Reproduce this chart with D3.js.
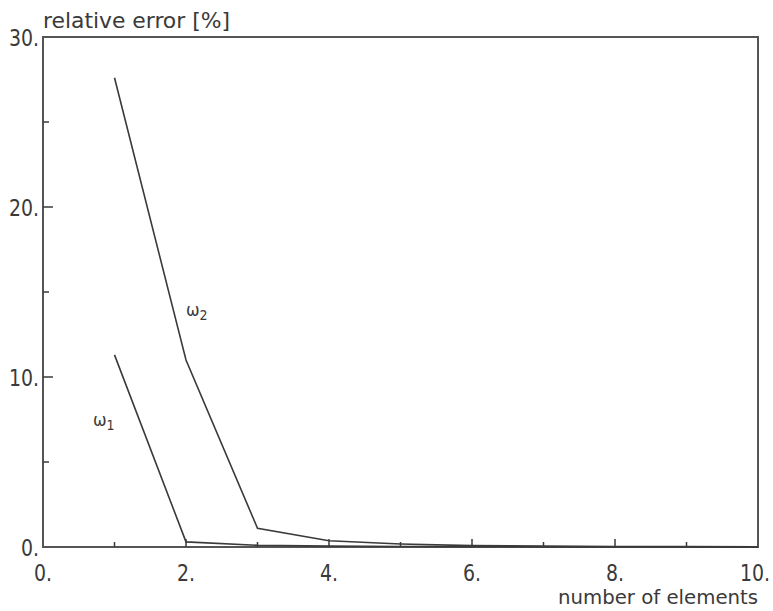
<!DOCTYPE html>
<html>
<head>
<meta charset="utf-8">
<script src="https://cdn.jsdelivr.net/npm/d3@7"></script>
<style>
  body { margin: 0; background: #fff; }
  text { font-family: "DejaVu Sans Condensed", "DejaVu Sans", sans-serif; fill: #3a3a3a; }
</style>
</head>
<body>
<div id="chart"></div>
<script>
// data
var elements = [1, 2, 3, 4, 5, 6, 7, 8, 9, 10];
var omega1 = [11.3, 0.3, 0.1, 0.05, 0.03, 0.02, 0.01, 0.01, 0.0, 0.0];
var omega2 = [27.6, 11.0, 1.1, 0.37, 0.18, 0.08, 0.05, 0.03, 0.02, 0.01];
var xTicks = [0, 2, 4, 6, 8, 10];
var xMinor = [1, 3, 5, 7, 9];
var yTicks = [0, 10, 20, 30];
var yMinor = [5, 15, 25];

var svgWidth = 773;
var svgHeight = 611;

var margin = { top: 37, right: 15, bottom: 64, left: 43 };
var width = svgWidth - margin.left - margin.right;
var height = svgHeight - margin.top - margin.bottom;

var svg = d3.select("#chart")
  .append("svg")
  .attr("width", svgWidth)
  .attr("height", svgHeight);

var chartGroup = svg.append("g")
  .attr("transform", `translate(${margin.left}, ${margin.top})`);

var xScale = d3.scaleLinear().domain([0, 10]).range([0, width]);
var yScale = d3.scaleLinear().domain([0, 30]).range([height, 0]);

var ink = "#3a3a3a";
// plotter font is narrow: squeeze the labels to its width
var labelWidth = d => String(d).length * 12 + 6;

// frame
chartGroup.append("rect")
  .attr("width", width)
  .attr("height", height)
  .attr("fill", "none")
  .attr("stroke", "#555")
  .attr("stroke-width", 2);

// x ticks (inside, pointing up)
chartGroup.selectAll(".xmaj")
  .data(xTicks.slice(1, -1))
  .enter().append("line")
  .attr("x1", d => xScale(d)).attr("x2", d => xScale(d))
  .attr("y1", height).attr("y2", height - 8)
  .attr("stroke", ink).attr("stroke-width", 1.5);

chartGroup.selectAll(".xmin")
  .data(xMinor)
  .enter().append("line")
  .attr("x1", d => xScale(d)).attr("x2", d => xScale(d))
  .attr("y1", height).attr("y2", height - 5)
  .attr("stroke", ink).attr("stroke-width", 1.5);

// y ticks (inside, pointing right)
chartGroup.selectAll(".ymaj")
  .data(yTicks.slice(1, -1))
  .enter().append("line")
  .attr("x1", 0).attr("x2", 10)
  .attr("y1", d => yScale(d)).attr("y2", d => yScale(d))
  .attr("stroke", ink).attr("stroke-width", 1.5);

chartGroup.selectAll(".ymin")
  .data(yMinor)
  .enter().append("line")
  .attr("x1", 0).attr("x2", 6)
  .attr("y1", d => yScale(d)).attr("y2", d => yScale(d))
  .attr("stroke", ink).attr("stroke-width", 1.5);

// tick labels (last one kept inside the page edge)
var maxRight = svgWidth - margin.left - 3;
chartGroup.selectAll(".xlab")
  .data(xTicks)
  .enter().append("text")
  .attr("x", d => Math.min(xScale(d) - labelWidth(d) / 2, maxRight - labelWidth(d)))
  .attr("y", height + 34)
  .attr("font-size", "23px")
  .attr("textLength", d => labelWidth(d))
  .attr("lengthAdjust", "spacingAndGlyphs")
  .text(d => d + ".");

chartGroup.selectAll(".ylab")
  .data(yTicks)
  .enter().append("text")
  .attr("x", d => -4 - labelWidth(d))
  .attr("y", d => yScale(d) + 9)
  .attr("font-size", "23px")
  .attr("textLength", d => labelWidth(d))
  .attr("lengthAdjust", "spacingAndGlyphs")
  .text(d => d + ".");

// curves
var line = d3.line()
  .x(d => xScale(d[0]))
  .y(d => yScale(d[1]));

[omega1, omega2].forEach(series => {
  chartGroup.append("path")
    .datum(elements.map((e, i) => [e, series[i]]))
    .attr("d", line)
    .attr("fill", "none")
    .attr("stroke", ink)
    .attr("stroke-width", 1.6);
});

// curve labels
function omegaLabel(x, y, sub) {
  var t = chartGroup.append("text")
    .attr("x", x).attr("y", y)
    .attr("font-size", "18px");
  t.append("tspan").text("ω");
  t.append("tspan").attr("dy", 4).attr("font-size", "14px").text(sub);
}
omegaLabel(xScale(0.7), yScale(7.1), "1");
omegaLabel(xScale(2.0), yScale(13.6), "2");

// axis titles
svg.append("text")
  .attr("x", margin.left)
  .attr("y", 28)
  .attr("font-size", "21px")
  .attr("textLength", 187)
  .attr("lengthAdjust", "spacingAndGlyphs")
  .text("relative error [%]");

svg.append("text")
  .attr("x", margin.left + width - 200)
  .attr("y", 604)
  .attr("font-size", "20px")
  .attr("textLength", 200)
  .attr("lengthAdjust", "spacingAndGlyphs")
  .text("number of elements");
</script>
</body>
</html>
